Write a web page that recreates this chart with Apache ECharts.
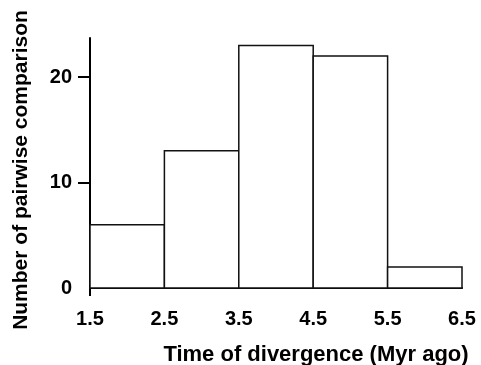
<!DOCTYPE html>
<html>
<head>
<meta charset="utf-8">
<script src="https://cdn.jsdelivr.net/npm/echarts@6/dist/echarts.min.js"></script>
<style>
  html, body { margin: 0; padding: 0; background: #fff; }
  #main { width: 481px; height: 365px; }
</style>
</head>
<body>
<div id="main"></div>
<script>
// bins of the histogram (Myr ago) and counts
var binStart = [1.5, 2.5, 3.5, 4.5, 5.5];
var binEnd = [2.5, 3.5, 4.5, 5.5, 6.5];
var counts = [6, 13, 23, 22, 2];
var xTicks = [1.5, 2.5, 3.5, 4.5, 5.5, 6.5];
var yTicks = [0, 10, 20];

var histData = [];
for (var i = 0; i < counts.length; i++) {
    histData.push([binStart[i], binEnd[i], counts[i]]);
}

var dom = document.getElementById("main");
var myChart = echarts.init(dom);
var option = {
    animation: false,
    backgroundColor: '#fff',
    grid: {
        left: 90,
        right: 19,
        top: 38,
        bottom: 77,
        containLabel: false,
        outerBoundsMode: 'none'
    },
    xAxis: {
        type: 'value',
        min: 1.5,
        max: 6.5,
        name: 'Time of divergence (Myr ago)',
        nameLocation: 'middle',
        nameGap: 56,
        nameTextStyle: {
            color: '#000',
            fontFamily: 'Liberation Sans',
            fontWeight: 'bold',
            fontSize: 22,
            padding: [0, 0, 0, 80]
        },
        splitLine: { show: false },
        axisLine: { lineStyle: { color: '#000', width: 2 } },
        axisTick: {
            customValues: [1.5],
            length: 8,
            lineStyle: { color: '#000', width: 2 }
        },
        axisLabel: {
            customValues: xTicks,
            margin: 21,
            color: '#000',
            fontFamily: 'Liberation Sans',
            fontWeight: 'bold',
            fontSize: 20,
            formatter: function (v) { return v.toFixed(1); }
        }
    },
    yAxis: {
        type: 'value',
        min: 0,
        max: 23.7,
        name: 'Number of pairwise comparison',
        nameLocation: 'middle',
        nameGap: 58,
        nameTextStyle: {
            color: '#000',
            fontFamily: 'Liberation Sans',
            fontWeight: 'bold',
            fontSize: 21,
            padding: [0, 14, 0, 0]
        },
        splitLine: { show: false },
        axisLine: { show: true, lineStyle: { color: '#000', width: 2 } },
        axisTick: {
            show: true,
            customValues: [10, 20],
            length: 12,
            lineStyle: { color: '#000', width: 2 }
        },
        axisLabel: {
            customValues: yTicks,
            margin: 18,
            color: '#000',
            fontFamily: 'Liberation Sans',
            fontWeight: 'bold',
            fontSize: 20
        }
    },
    series: [
        {
            type: 'custom',
            data: histData,
            encode: { x: [0, 1], y: 2 },
            renderItem: function (params, api) {
                var p0 = api.coord([api.value(0), 0]);
                var p1 = api.coord([api.value(1), api.value(2)]);
                return {
                    type: 'rect',
                    shape: {
                        x: p0[0],
                        y: p1[1],
                        width: p1[0] - p0[0],
                        height: p0[1] - p1[1]
                    },
                    style: {
                        fill: '#fff',
                        stroke: '#111',
                        lineWidth: 1.5
                    }
                };
            }
        }
    ]
};
myChart.setOption(option);
</script>
</body>
</html>
